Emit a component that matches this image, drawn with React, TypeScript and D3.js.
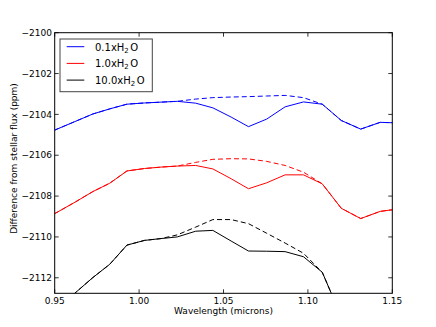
import React from "react";
import * as d3 from "d3";

// wavelength grid (microns)
const wavelength = [
  0.95, 0.962, 0.9726, 0.9826, 0.9928, 1.0032, 1.013, 1.0226, 1.0335, 1.0437,
  1.0545, 1.0648, 1.0756, 1.0865, 1.0974, 1.1085, 1.1198, 1.1313, 1.1428, 1.1545,
];

// solid lines
const water01 = [
  -2104.77, -2104.35, -2103.98, -2103.73, -2103.5, -2103.44, -2103.4, -2103.36, -2103.45, -2103.68,
  -2104.13, -2104.6, -2104.23, -2103.63, -2103.39, -2103.5, -2104.3, -2104.72, -2104.39, -2104.42,
];
const water1 = [
  -2108.86, -2108.3, -2107.78, -2107.37, -2106.77, -2106.65, -2106.58, -2106.53, -2106.5, -2106.67,
  -2107.15, -2107.64, -2107.35, -2106.96, -2106.96, -2107.4, -2108.6, -2109.1, -2108.75, -2108.62,
];
const water10 = [
  -2113.6, -2112.75, -2111.99, -2111.34, -2110.4, -2110.17, -2110.08, -2110.0, -2109.72, -2109.68,
  -2110.2, -2110.69, -2110.7, -2110.72, -2110.97, -2111.73, -2113.9, -2114.5, -2114.8, -2114.9,
];

// dashed lines
const water01Dash = [
  -2104.77, -2104.35, -2103.98, -2103.73, -2103.5, -2103.44, -2103.4, -2103.36, -2103.25, -2103.18,
  -2103.15, -2103.13, -2103.1, -2103.07, -2103.18, -2103.5, -2104.3, -2104.72, -2104.39, -2104.42,
];
const water1Dash = [
  -2108.86, -2108.3, -2107.78, -2107.37, -2106.77, -2106.65, -2106.58, -2106.53, -2106.35, -2106.2,
  -2106.17, -2106.18, -2106.3, -2106.5, -2106.83, -2107.4, -2108.6, -2109.1, -2108.75, -2108.62,
];
const water10Dash = [
  -2113.6, -2112.75, -2111.99, -2111.34, -2110.4, -2110.17, -2110.08, -2109.9, -2109.52, -2109.15,
  -2109.15, -2109.35, -2109.82, -2110.3, -2110.8, -2111.73, -2113.9, -2114.5, -2114.8, -2114.9,
];

const seriesNames = ["0.1", "1.0", "10.0"];
const seriesColors = ["#0000ff", "#ff0000", "#000000"];
const solidSeries = [water01, water1, water10];
const dashedSeries = [water01Dash, water1Dash, water10Dash];

const xTicks = [0.95, 1.0, 1.05, 1.1, 1.15];
const yTicks = [-2112, -2110, -2108, -2106, -2104, -2102, -2100];

const W = 436;
const H = 327;
const M = { left: 54.7, right: 392.3, top: 32.7, bottom: 293.3 };
const FONT = "DejaVu Sans, sans-serif";

const App = () => {
  const x = d3.scaleLinear().domain([0.95, 1.15]).range([M.left, M.right]);
  const y = d3.scaleLinear().domain([-2112.76, -2100]).range([M.bottom, M.top]);

  const line = (vals: number[]) =>
    d3.line<number>()
      .x((_, i) => x(wavelength[i]))
      .y((d) => y(d))(vals) as string;

  const minus = (v: number) => String(v).replace("-", "\u2212");

  return (
    <svg
      width={W}
      height={H}
      style={{ position: "absolute", left: 0, top: 0, background: "#fff" }}
      fontFamily={FONT}
    >
      <defs>
        <clipPath id="plot">
          <rect x={M.left} y={M.top} width={M.right - M.left} height={M.bottom - M.top} />
        </clipPath>
      </defs>

      <g clipPath="url(#plot)" fill="none" strokeWidth={1}>
        {solidSeries.map((s, i) => (
          <path key={"s" + i} d={line(s)} stroke={seriesColors[i]} />
        ))}
        {dashedSeries.map((s, i) => (
          <path key={"d" + i} d={line(s)} stroke={seriesColors[i]} strokeDasharray="5,3" />
        ))}
      </g>

      {/* ticks, inward on all sides */}
      <g stroke="#000" strokeWidth={0.8}>
        {xTicks.map((t) => (
          <g key={"xt" + t}>
            <line x1={x(t)} x2={x(t)} y1={M.bottom} y2={M.bottom - 4} />
            <line x1={x(t)} x2={x(t)} y1={M.top} y2={M.top + 4} />
          </g>
        ))}
        {yTicks.map((t) => (
          <g key={"yt" + t}>
            <line x1={M.left} x2={M.left + 4} y1={y(t)} y2={y(t)} />
            <line x1={M.right} x2={M.right - 4} y1={y(t)} y2={y(t)} />
          </g>
        ))}
      </g>

      <rect
        x={M.left}
        y={M.top}
        width={M.right - M.left}
        height={M.bottom - M.top}
        fill="none"
        stroke="#000"
        strokeWidth={1}
      />

      <g fontSize={9} fill="#000">
        {xTicks.map((t) => (
          <text key={"xl" + t} x={x(t)} y={303.5} textAnchor="middle">
            {t.toFixed(2)}
          </text>
        ))}
        {yTicks.map((t) => (
          <text key={"yl" + t} x={52} y={y(t)} dy="0.35em" textAnchor="end">
            {minus(t)}
          </text>
        ))}
        <text x={(M.left + M.right) / 2} y={313.5} textAnchor="middle">
          Wavelength (microns)
        </text>
        <text transform="translate(17,158.5) rotate(-90)" textAnchor="middle">
          Difference from stellar flux (ppm)
        </text>
      </g>

      {/* legend */}
      <g>
        <rect x={60} y={39} width={92.3} height={52.7} fill="#fff" stroke="#444" strokeWidth={1} />
        {seriesNames.map((n, i) => {
          const ly = 46.7 + i * 16.7;
          return (
            <g key={"lg" + n}>
              <line x1={66.7} x2={84.3} y1={ly} y2={ly} stroke={seriesColors[i]} strokeWidth={1} />
              <text x={95} y={ly + 3.8} fontSize={10}>
                {n}xH
                <tspan fontSize={7} dy={2}>2</tspan>
                <tspan dy={-2} dx={1.5}>O</tspan>
              </text>
            </g>
          );
        })}
      </g>
    </svg>
  );
};

export default App;
